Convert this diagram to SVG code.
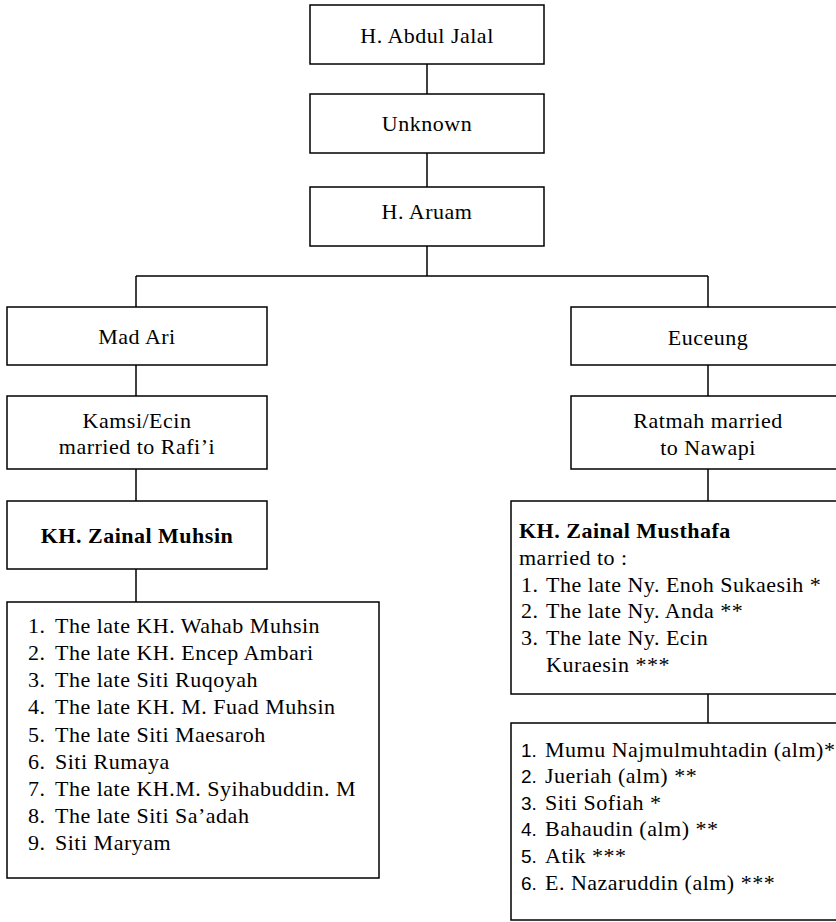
<svg xmlns="http://www.w3.org/2000/svg" width="836" height="922" viewBox="0 0 836 922">
<style>
.box{fill:#fff;stroke:#000;stroke-width:1.5}
.t{font-family:"Liberation Serif","Times New Roman",serif;font-size:22px;letter-spacing:0.5px;fill:#000}
.c{text-anchor:middle}
.b{font-weight:bold}
.n{font-family:"Liberation Sans",Arial,sans-serif;font-size:19px;letter-spacing:0}
#connectors line{stroke:#000;stroke-width:1.5}
</style>
<rect width="836" height="922" fill="#fff"/>
<g id="connectors">
<line x1="427" y1="64" x2="427" y2="94"/>
<line x1="427" y1="153" x2="427" y2="187"/>
<line x1="427" y1="246" x2="427" y2="276"/>
<line x1="136" y1="276" x2="708" y2="276"/>
<line x1="136" y1="276" x2="136" y2="307"/>
<line x1="136" y1="365" x2="136" y2="396"/>
<line x1="136" y1="469" x2="136" y2="501"/>
<line x1="136" y1="569" x2="136" y2="602"/>
<line x1="708" y1="276" x2="708" y2="307"/>
<line x1="708" y1="365" x2="708" y2="396"/>
<line x1="708" y1="469" x2="708" y2="501"/>
<line x1="708" y1="694" x2="708" y2="723"/>
</g>
<g id="abdul-jalal">
<rect class="box" x="310" y="5" width="234" height="59"/>
<text class="t c" x="427" y="43">H. Abdul Jalal</text>
</g>
<g id="unknown">
<rect class="box" x="310" y="94" width="234" height="59"/>
<text class="t c" x="427" y="131">Unknown</text>
</g>
<g id="aruam">
<rect class="box" x="310" y="187" width="234" height="59"/>
<text class="t c" x="427" y="219">H. Aruam</text>
</g>
<g id="mad-ari">
<rect class="box" x="7" y="307" width="260" height="58"/>
<text class="t c" x="137" y="344">Mad Ari</text>
</g>
<g id="kamsi">
<rect class="box" x="7" y="396" width="260" height="73"/>
<text class="t c" x="137" y="428">Kamsi/Ecin</text>
<text class="t c" x="137" y="454">married to Rafi’i</text>
</g>
<g id="zainal-muhsin">
<rect class="box" x="7" y="501" width="260" height="68"/>
<text class="t c b" x="137" y="543">KH. Zainal Muhsin</text>
</g>
<g id="muhsin-children">
<rect class="box" x="7" y="602" width="372" height="276"/>
<g class="t">
<text x="28" y="633">1.</text><text x="55" y="633">The late KH. Wahab Muhsin</text>
<text x="28" y="660">2.</text><text x="55" y="660">The late KH. Encep Ambari</text>
<text x="28" y="687">3.</text><text x="55" y="687">The late Siti Ruqoyah</text>
<text x="28" y="714">4.</text><text x="55" y="714">The late KH. M. Fuad Muhsin</text>
<text x="28" y="742">5.</text><text x="55" y="742">The late Siti Maesaroh</text>
<text x="28" y="769">6.</text><text x="55" y="769">Siti Rumaya</text>
<text x="28" y="796">7.</text><text x="55" y="796">The late KH.M. Syihabuddin. M</text>
<text x="28" y="823">8.</text><text x="55" y="823">The late Siti Sa’adah</text>
<text x="28" y="850">9.</text><text x="55" y="850">Siti Maryam</text>
</g>
</g>
<g id="euceung">
<rect class="box" x="571" y="307" width="280" height="58"/>
<text class="t c" x="708" y="345">Euceung</text>
</g>
<g id="ratmah">
<rect class="box" x="571" y="396" width="280" height="73"/>
<text class="t c" x="708" y="428">Ratmah married</text>
<text class="t c" x="708" y="455">to Nawapi</text>
</g>
<g id="zainal-musthafa">
<rect class="box" x="511" y="501" width="340" height="193"/>
<g class="t">
<text class="b" x="519" y="538">KH. Zainal Musthafa</text>
<text x="519" y="565">married to :</text>
<text x="521" y="592">1.</text><text x="546" y="592">The late Ny. Enoh Sukaesih *</text>
<text x="521" y="618">2.</text><text x="546" y="618">The late Ny. Anda **</text>
<text x="521" y="645">3.</text><text x="546" y="645">The late Ny. Ecin</text>
<text x="546" y="672">Kuraesin ***</text>
</g>
</g>
<g id="musthafa-children">
<rect class="box" x="511" y="723" width="340" height="197"/>
<g class="t">
<text class="n" x="521" y="757">1.</text><text x="545" y="757">Mumu Najmulmuhtadin (alm)*</text>
<text class="n" x="521" y="783">2.</text><text x="545" y="783">Jueriah (alm) **</text>
<text class="n" x="521" y="810">3.</text><text x="545" y="810">Siti Sofiah *</text>
<text class="n" x="521" y="836">4.</text><text x="545" y="836">Bahaudin (alm) **</text>
<text class="n" x="521" y="863">5.</text><text x="545" y="863">Atik ***</text>
<text class="n" x="521" y="890">6.</text><text x="545" y="890">E. Nazaruddin (alm) ***</text>
</g>
</g>
</svg>
